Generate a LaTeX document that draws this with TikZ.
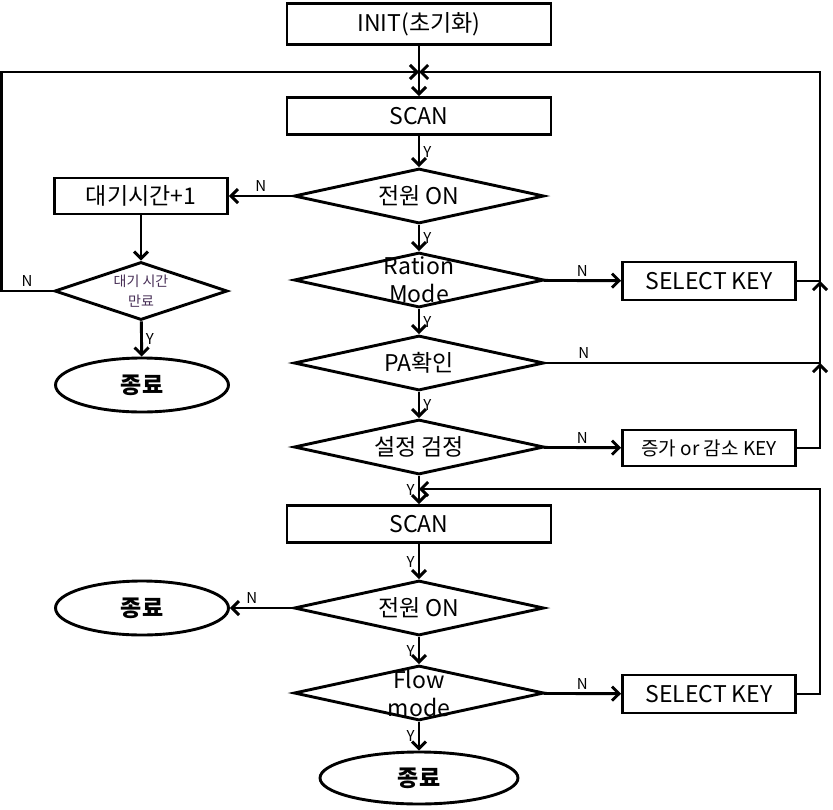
\documentclass[tikz,border=0pt]{standalone}
\usepackage{fontspec}
\setmainfont{Noto Sans CJK KR}
\usepackage{xcolor}
\usetikzlibrary{shapes.geometric}
\usetikzlibrary{arrows.meta}
\definecolor{dimtext}{RGB}{70,45,85}
\newcommand{\twolines}[2]{#1\\#2}

\begin{document}
\begin{tikzpicture}[x=1pt,y=-1pt,line width=2.9pt,
   every node/.style={font=\fontsize{23}{28}\selectfont},
   box/.style={rectangle,draw=black,minimum width=264pt,minimum height=37pt,inner sep=0pt},
   sidebox/.style={rectangle,draw=black,minimum width=173pt,minimum height=36pt,inner sep=0pt},
   decision/.style={diamond,draw=black,minimum width=250pt,minimum height=55pt,inner sep=0pt},
   stopper/.style={ellipse,draw=black,minimum width=173pt,minimum height=54pt,inner sep=0pt,
                   font=\fontsize{23}{28}\selectfont\bfseries},
   arr/.style={-{Straight Barb[length=7pt,width=14pt]}},
   ynlab/.style={font=\fontsize{15}{15}\selectfont,inner sep=3pt}]
 \useasboundingbox (0,0) rectangle (833,809);

 % upper part
 \draw (419,24)  node[box,minimum height=41pt] (init) {INIT(초기화)};
 \draw (419,116) node[box] (scan1) {SCAN};
 \draw (419,196) node[decision,label=center:{전원 ON}] (pwr1) {};
 \draw (141,196) node[sidebox] (wait) {대기시간+1};
 \draw (141,291) node[decision,minimum width=173pt,minimum height=58pt,
        label={[align=center,text=dimtext,font=\fontsize{14}{20}\selectfont]center:\twolines{대기 시간}{만료}}] (timeout) {};
 \draw (142,385) node[stopper] (end1) {종료};
 \draw (419,280) node[decision,label={[align=center]center:\twolines{Ration}{Mode}}] (ration) {};
 \draw (709,281) node[sidebox,minimum height=38pt] (sel1) {SELECT KEY};
 \draw (419,363) node[decision,label=center:{PA확인}] (pa) {};
 \draw (419,447) node[decision,label=center:{설정 검정}] (chk) {};
 \draw (709,448) node[sidebox,font=\fontsize{19}{22}\selectfont] (updown) {증가 or 감소 KEY};

 % lower part
 \draw (419,524) node[box] (scan2) {SCAN};
 \draw (419,608) node[decision,label=center:{전원 ON}] (pwr2) {};
 \draw (142,608) node[stopper] (end2) {종료};
 \draw (419,693) node[decision,label={[align=center]center:\twolines{Flow}{mode}}] (flow) {};
 \draw (709,694) node[sidebox,minimum height=38pt] (sel2) {SELECT KEY};
 \draw (419,778) node[stopper,minimum width=198pt,minimum height=52pt] (end3) {종료};

 \coordinate (top) at (419,72);
 \coordinate (mid) at (419,489);
 \coordinate (r1)  at (820,281);
 \coordinate (r2)  at (820,363);

 \draw[arr] (init) -- (scan1);
 \draw[arr] (scan1) -- (pwr1) node[ynlab,midway,right] {Y};
 \draw[arr] (pwr1) -- (wait) node[ynlab,midway,above] {N};
 \draw[arr] (wait) -- (timeout);
 \draw[arr] (timeout.west) -- ++(-52,0) node[ynlab,midway,above] {N} |- (top);
 \draw[arr] (timeout) -- (end1) node[ynlab,midway,right] {Y};
 \draw[arr] (pwr1) -- (ration) node[ynlab,midway,right] {Y};
 \draw[arr] (ration) -- (sel1) node[ynlab,midway,above] {N};
 \draw[arr] (sel1.east) -- (r1) |- (top);
 \draw[arr] (ration) -- (pa) node[ynlab,midway,right] {Y};
 \draw[arr] (pa.east) -- (r2) node[ynlab,pos=0.14,above] {N} -- (r1);
 \draw[arr] (pa) -- (chk) node[ynlab,midway,right] {Y};
 \draw[arr] (chk) -- (updown) node[ynlab,midway,above] {N};
 \draw[arr] (updown.east) -| (r2);

 \draw[arr] (chk) -- (scan2) node[ynlab,midway,left] {Y};
 \draw[arr] (sel2.east) -- ++(23,0) |- (mid);
 \draw[arr] (scan2) -- (pwr2) node[ynlab,midway,left] {Y};
 \draw[arr] (pwr2) -- (end2) node[ynlab,pos=0.65,above] {N};
 \draw[arr] (pwr2) -- (flow) node[ynlab,midway,left] {Y};
 \draw[arr] (flow) -- (sel2) node[ynlab,midway,above] {N};
 \draw[arr] (flow) -- (end3) node[ynlab,midway,left] {Y};
\end{tikzpicture}
\end{document}
